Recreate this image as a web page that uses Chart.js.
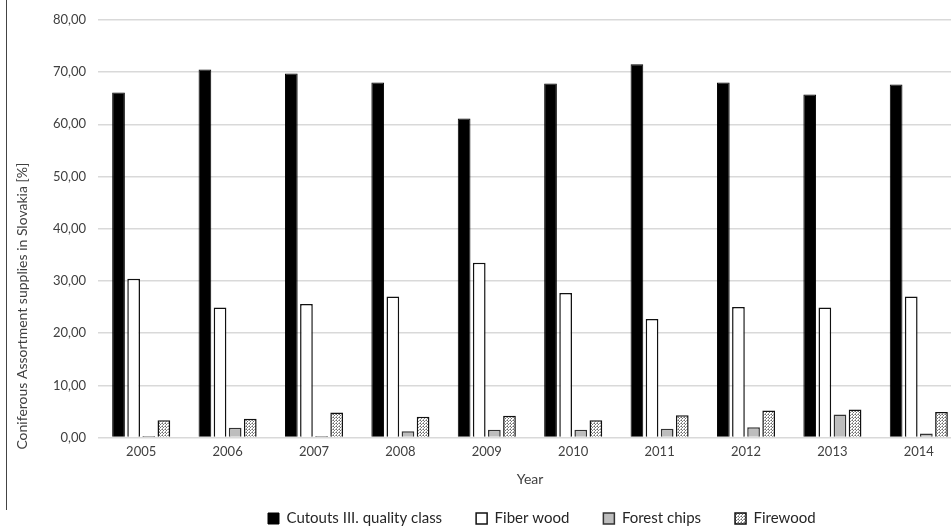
<!DOCTYPE html>
<html>
<head>
<meta charset="utf-8">
<script src="https://cdn.jsdelivr.net/npm/chart.js@4/dist/chart.umd.min.js"></script>
<style>
  html, body { margin: 0; padding: 0; background: #fff; overflow: hidden; }
  #wrap { position: absolute; left: 0; top: 0; width: 962px; height: 530px; }
  #edge { position: absolute; left: 6px; top: 0; width: 1px; height: 510px; background: #444; }
</style>
</head>
<body>
<div id="wrap"><canvas id="chart"></canvas></div>
<div id="edge"></div>
<script>
const years = ["2005", "2006", "2007", "2008", "2009", "2010", "2011", "2012", "2013", "2014"];
const cutouts = [66.1, 70.5, 69.7, 68.0, 61.1, 67.8, 71.5, 68.0, 65.7, 67.6];
const fiberWood = [30.4, 24.9, 25.6, 27.0, 33.5, 27.7, 22.7, 25.0, 24.9, 27.0];
const forestChips = [0.3, 1.9, 0.3, 1.2, 1.5, 1.5, 1.7, 2.0, 4.4, 0.8];
const firewood = [3.3, 3.6, 4.8, 4.0, 4.2, 3.3, 4.3, 5.2, 5.4, 4.9];
const yTitle = "Coniferous Assortment supplies in Slovakia [%]";

// dotted fill for the firewood bars
const makePattern = () => {
    const c = document.createElement("canvas");
    c.width = 3;
    c.height = 3;
    const g = c.getContext("2d");
    g.fillStyle = "#ffffff";
    g.fillRect(0, 0, 3, 3);
    g.fillStyle = "#6e6e6e";
    g.fillRect(0, 0, 1, 1);
    g.fillRect(1, 1, 1, 1);
    g.fillStyle = "#a8a8a8";
    g.fillRect(2, 0, 1, 1);
    g.fillRect(0, 2, 1, 1);
    return g.createPattern(c, "repeat");
};

const fmt = v => v.toFixed(2).replace(".", ",");

// put the legend where it sits in the original
const legendSpot = {
    id: "legendSpot",
    afterLayout(chart) {
        chart.legend.left = 234;
        chart.legend.top = 477;
    }
};

// y title starts a bit below the axis bottom, like in the original
const yTitlePlugin = {
    id: "yTitlePlugin",
    afterDraw(chart) {
        const c = chart.ctx;
        c.save();
        c.translate(27, chart.chartArea.bottom + 12);
        c.rotate(-Math.PI / 2);
        c.font = "14px Lato";
        c.fillStyle = "#404040";
        c.textAlign = "left";
        c.textBaseline = "alphabetic";
        c.fillText(yTitle, 0, 0);
        c.restore();
    }
};

const ctx = document.getElementById("chart").getContext("2d");

new Chart(ctx, {
    type: "bar",
    data: {
        labels: years,
        datasets: [
            { label: "Cutouts III. quality class", data: cutouts, backgroundColor: "#000000", borderColor: "#000000", borderWidth: 1 },
            { label: "Fiber wood", data: fiberWood, backgroundColor: "#ffffff", borderColor: "#111111", borderWidth: 1.5 },
            { label: "Forest chips", data: forestChips, backgroundColor: "#bdbdbd", borderColor: "#333333", borderWidth: 1.5 },
            { label: "Firewood", data: firewood, backgroundColor: makePattern(), borderColor: "#111111", borderWidth: 1.5 }
        ]
    },
    options: {
        responsive: true,
        maintainAspectRatio: false,
        animation: false,
        layout: { padding: { left: 0, right: 0, top: 17, bottom: -17 } },
        datasets: {
            bar: { categoryPercentage: 0.70, barPercentage: 0.84 }
        },
        scales: {
            x: {
                grid: { display: false, drawTicks: false },
                border: { display: false },
                ticks: { color: "#404040", font: { family: "Lato", size: 13 }, padding: 6 },
                title: { display: true, text: "Year", color: "#404040", font: { family: "Lato", size: 14 }, padding: { top: 6, bottom: 0 } }
            },
            y: {
                min: 0,
                max: 80,
                afterFit: s => { s.width = 98; },
                ticks: { stepSize: 10, color: "#404040", font: { family: "Lato", size: 13 }, padding: 12, callback: v => fmt(v) },
                grid: { color: "#d9d9d9", lineWidth: 1.5, drawTicks: false },
                border: { display: false }
            }
        },
        plugins: {
            legend: {
                position: "bottom",
                align: "start",
                labels: {
                    boxWidth: 11,
                    boxHeight: 11,
                    padding: 34,
                    color: "#262626",
                    font: { family: "Lato", size: 15 }
                }
            },
            tooltip: { enabled: false }
        }
    },
    plugins: [legendSpot, yTitlePlugin]
});
</script>
</body>
</html>
